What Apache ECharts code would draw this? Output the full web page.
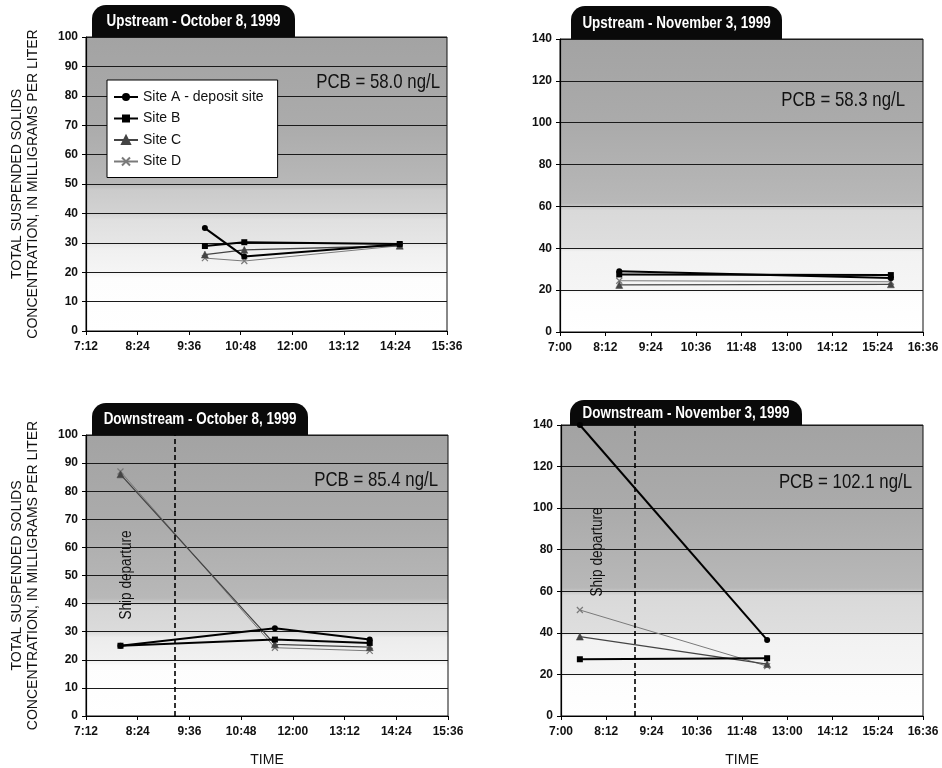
<!DOCTYPE html>
<html><head><meta charset="utf-8">
<script src="https://cdn.jsdelivr.net/npm/echarts@6/dist/echarts.min.js"></script>
<style>html,body{margin:0;padding:0;background:#fff}#c{width:942px;height:768px}</style>
</head><body><div id="c"></div>
<script>
// ---------- DATA ----------
const siteNames = ['Site A - deposit site', 'Site B', 'Site C', 'Site D'];

const upOctTimes = ['9:58', '10:53', '14:30'];
const upOctA = [35, 25.3, 29.5];
const upOctB = [28.9, 30.2, 29.6];
const upOctC = [26, 27.6, 29];
const upOctD = [24.8, 23.8, 29];

const upNovTimes = ['8:34', '15:45'];
const upNovA = [29, 25.8];
const upNovB = [27.5, 27.2];
const upNovC = [22.5, 22.8];
const upNovD = [24.5, 24];

const dnOctTimes = ['8:00', '11:35', '13:47'];
const dnOctA = [25, 31.2, 27.2];
const dnOctB = [25, 27.2, 26];
const dnOctC = [86, 25.5, 24.5];
const dnOctD = [87, 24.3, 23.2];

const dnNovTimes = ['7:30', '12:28'];
const dnNovA = [140, 36.6];
const dnNovB = [27.3, 27.8];
const dnNovC = [38.2, 25];
const dnNovD = [51, 24];

const octTicks = ['7:12', '8:24', '9:36', '10:48', '12:00', '13:12', '14:24', '15:36'];
const novTicks = ['7:00', '8:12', '9:24', '10:36', '11:48', '13:00', '14:12', '15:24', '16:36'];

const shipDepartOct = '9:15';
const shipDepartNov = '8:58';

const panelTitles = ['Upstream - October 8, 1999', 'Upstream - November 3, 1999',
                     'Downstream - October 8, 1999', 'Downstream - November 3, 1999'];
const pcbLabels = ['PCB = 58.0 ng/L', 'PCB = 58.3 ng/L', 'PCB = 85.4 ng/L', 'PCB = 102.1 ng/L'];
const yAxisName = 'TOTAL SUSPENDED SOLIDS\nCONCENTRATION, IN MILLIGRAMS PER LITER';
const xAxisName = 'TIME';
const shipLabel = 'Ship departure';

// ---------- HELPERS ----------
const toMin = s => { const p = s.split(':'); return (+p[0]) * 60 + (+p[1]); };
const fmt = v => Math.floor(v / 60) + ':' + String(Math.round(v % 60)).padStart(2, '0');
const FONT = '"Liberation Sans", Arial, sans-serif';

function bg(stops) {
  return { type: 'linear', x: 0, y: 0, x2: 0, y2: 1,
    colorStops: stops.map(s => ({ offset: s[0], color: s[1] })) };
}
const bg100 = bg([[0, '#a3a3a3'], [0.3, '#ababab'], [0.5, '#b8b8b8'], [0.52, '#cbcbcb'], [0.6, '#d2d2d2'],
  [0.62, '#e0e0e0'], [0.7, '#e6e6e6'], [0.72, '#f0f0f0'], [0.8, '#f5f5f5'], [0.82, '#fdfdfd'], [1, '#ffffff']]);
const bg100b = bg([[0, '#a3a3a3'], [0.3, '#ababab'], [0.58, '#b8b8b8'], [0.61, '#d6d6d6'], [0.7, '#dbdbdb'],
  [0.72, '#ececec'], [0.8, '#f1f1f1'], [0.82, '#fdfdfd'], [1, '#ffffff']]);
const bg140 = bg([[0, '#a3a3a3'], [0.3, '#ababab'], [0.56, '#b8b8b8'], [0.585, '#d9d9d9'], [0.71, '#dedede'],
  [0.725, '#f2f2f2'], [0.855, '#f5f5f5'], [0.87, '#fdfdfd'], [1, '#ffffff']]);

const grids = [
  { left: 86, top: 37, width: 361, height: 294, backgroundColor: bg100 },
  { left: 560, top: 39, width: 363, height: 293, backgroundColor: bg140 },
  { left: 86, top: 435, width: 362, height: 284, backgroundColor: bg100b },
  { left: 561, top: 425, width: 362, height: 293, backgroundColor: bg140 }
].map(g => Object.assign({ show: true, borderColor: '#111', borderWidth: 1 }, g));

const axisText = { fontFamily: FONT, fontSize: 12, fontWeight: 'bold', color: '#111' };

function xAxis(i, ticks, showName) {
  const vals = ticks.map(toMin);
  return {
    gridIndex: i, type: 'value', min: vals[0], max: vals[vals.length - 1],
    axisLine: { show: true, lineStyle: { color: '#000', width: 1 } },
    axisTick: { show: true, customValues: vals, length: 4, lineStyle: { color: '#000' } },
    axisLabel: Object.assign({ customValues: vals, formatter: v => fmt(v), margin: 10 }, axisText),
    splitLine: { show: false },
    name: showName ? xAxisName : '', nameLocation: 'middle', nameGap: 37,
    nameTextStyle: { fontFamily: FONT, fontSize: 14, color: '#111' }
  };
}
function yAxis(i, max, interval, showName) {
  return {
    gridIndex: i, type: 'value', min: 0, max: max, interval: interval,
    axisLine: { show: true, lineStyle: { color: '#000', width: 1.2 } },
    axisTick: { show: true, length: 4, lineStyle: { color: '#000' } },
    axisLabel: Object.assign({ margin: 8 }, axisText),
    splitLine: { show: true, lineStyle: { color: '#1a1a1a', width: 1 } },
    name: showName ? yAxisName : '', nameLocation: 'middle', nameGap: 45, nameRotate: 90,
    nameTextStyle: { fontFamily: FONT, fontSize: 14, lineHeight: 16, color: '#111', align: 'center' }
  };
}

const styles = [
  { symbol: 'circle', symbolSize: 6, color: '#000', lw: 2 },
  { symbol: 'rect', symbolSize: 6, color: '#000', lw: 2 },
  { symbol: 'triangle', symbolSize: 7, color: '#444', lw: 1.3 },
  { symbol: 'path://M0,0L10,10M10,0L0,10', symbolSize: 6, color: '#7a7a7a', lw: 1 }
];

const panels = [
  { times: upOctTimes, vals: [upOctA, upOctB, upOctC, upOctD] },
  { times: upNovTimes, vals: [upNovA, upNovB, upNovC, upNovD] },
  { times: dnOctTimes, vals: [dnOctA, dnOctB, dnOctC, dnOctD], ship: shipDepartOct },
  { times: dnNovTimes, vals: [dnNovA, dnNovB, dnNovC, dnNovD], ship: shipDepartNov }
];

const series = [];
panels.forEach((p, gi) => {
  p.vals.forEach((arr, si) => {
    const st = styles[si];
    const isX = si === 3;
    const s = {
      type: 'line', name: siteNames[si], xAxisIndex: gi, yAxisIndex: gi,
      data: arr.map((v, k) => [toMin(p.times[k]), v]),
      symbol: st.symbol, symbolSize: st.symbolSize, showSymbol: true, z: 5 - si,
      lineStyle: { color: st.color, width: st.lw },
      itemStyle: isX ? { color: 'rgba(0,0,0,0)', borderColor: st.color, borderWidth: 1.2 }
                     : { color: st.color, borderColor: st.color, borderWidth: si === 2 ? 0.5 : 0 },
      animation: false, silent: true
    };
    if (p.ship && si === 0) {
      s.markLine = {
        silent: true, symbol: ['none', 'none'],
        lineStyle: { color: '#000', type: [5, 3], width: 1.6 },
        label: { show: false },
        data: [{ xAxis: toMin(p.ship) }]
      };
    }
    series.push(s);
  });
});

function tab(x, y, w, h, text) {
  return {
    type: 'group', children: [
      { type: 'rect', shape: { x: x, y: y, width: w, height: h, r: [14, 14, 0, 0] }, style: { fill: '#0a0a0a' } },
      { type: 'text', x: x + w / 2, y: y + h / 2 + 1, scaleX: 0.84,
        style: { text: text, fill: '#fff', font: 'bold 16px ' + FONT, align: 'center', verticalAlign: 'middle' } }
    ]
  };
}
function pcb(xr, y, text) {
  return { type: 'text', x: xr, y: y, z: 10, scaleX: 0.8,
    style: { text: text, fill: '#111', font: '21px ' + FONT, align: 'right', verticalAlign: 'middle' } };
}
function ship(x, y) {
  return { type: 'text', x: x, y: y, rotation: Math.PI / 2, z: 10, scaleX: 0.85,
    style: { text: shipLabel, fill: '#111', font: '16px ' + FONT, align: 'center', verticalAlign: 'middle' } };
}

const chart = echarts.init(document.getElementById('c'), null, { renderer: 'canvas' });
chart.setOption({
  backgroundColor: '#fff',
  animation: false,
  textStyle: { fontFamily: FONT },
  grid: grids,
  xAxis: [xAxis(0, octTicks, false), xAxis(1, novTicks, false), xAxis(2, octTicks, true), xAxis(3, novTicks, true)],
  yAxis: [yAxis(0, 100, 10, true), yAxis(1, 140, 20, false), yAxis(2, 100, 10, true), yAxis(3, 140, 20, false)],
  legend: {
    left: 107, top: 80, orient: 'vertical',
    data: siteNames,
    itemWidth: 24, itemHeight: 10, itemGap: 7.5,
    padding: [10, 14, 9, 6],
    backgroundColor: '#fff', borderColor: '#000', borderWidth: 1,
    textStyle: { fontFamily: FONT, fontSize: 14, color: '#111' },
    selectedMode: false
  },
  graphic: [
    tab(92, 5, 203, 32, panelTitles[0]),
    tab(571, 6, 211, 33, panelTitles[1]),
    tab(92, 403, 216, 32, panelTitles[2]),
    tab(570, 400, 232, 25, panelTitles[3]),
    pcb(440, 82, pcbLabels[0]),
    pcb(905, 100, pcbLabels[1]),
    pcb(438, 480, pcbLabels[2]),
    pcb(912, 482, pcbLabels[3]),
    ship(127, 575),
    ship(598, 552)
  ],
  series: series
});
</script></body></html>
